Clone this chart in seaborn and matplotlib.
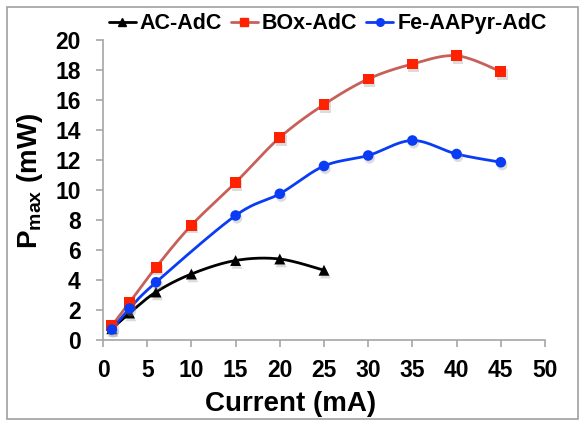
import numpy as np
import pandas as pd
import matplotlib
matplotlib.use("Agg")
import matplotlib.pyplot as plt
import matplotlib.patheffects as pe
from matplotlib.lines import Line2D
from matplotlib.patches import Rectangle
import seaborn as sns

# ---- data ----
ac_x = [1, 3, 6, 10, 15, 20, 25]
ac_y = [0.75, 1.8, 3.2, 4.4, 5.3, 5.4, 4.65]
box_x = [1, 3, 6, 10, 15, 20, 25, 30, 35, 40, 45]
box_y = [0.95, 2.5, 4.85, 7.65, 10.5, 13.5, 15.7, 17.4, 18.4, 18.95, 17.9]
fe_x = [1, 3, 6, 15, 20, 25, 30, 35, 40, 45]
fe_y = [0.7, 2.1, 3.85, 8.3, 9.75, 11.6, 12.3, 13.3, 12.4, 11.85]
labels = ["AC-AdC", "BOx-AdC", "Fe-AAPyr-AdC"]
x_ticks = [0, 5, 10, 15, 20, 25, 30, 35, 40, 45, 50]
y_ticks = [0, 2, 4, 6, 8, 10, 12, 14, 16, 18, 20]

sns.set_theme(style="white")
plt.rcParams["font.family"] = ["Liberation Sans", "DejaVu Sans"]
plt.rcParams["font.weight"] = "bold"
plt.rcParams["text.color"] = "black"
plt.rcParams["axes.labelcolor"] = "black"
plt.rcParams["mathtext.fontset"] = "custom"
plt.rcParams["mathtext.rm"] = "Liberation Sans:bold"
plt.rcParams["mathtext.bf"] = "Liberation Sans:bold"
plt.rcParams["mathtext.it"] = "Liberation Sans:bold"


def smooth(xs, ys, n=30):
    """Excel-style smoothed curve (Bezier with Catmull-Rom control points) for drawing."""
    P = np.column_stack([xs, ys]).astype(float)
    out = []
    for i in range(len(P) - 1):
        p0 = P[i - 1] if i > 0 else P[i]
        p1, p2 = P[i], P[i + 1]
        p3 = P[i + 2] if i + 2 < len(P) else P[i + 1]
        c1 = p1 + (p2 - p0) / 6.0
        c2 = p2 - (p3 - p1) / 6.0
        t = np.linspace(0, 1, n)[:, None]
        seg = ((1 - t) ** 3) * p1 + 3 * ((1 - t) ** 2) * t * c1 + 3 * (1 - t) * t ** 2 * c2 + t ** 3 * p2
        out.append(seg if i == 0 else seg[1:])
    s = np.vstack(out)
    return pd.DataFrame({"x": s[:, 0], "y": s[:, 1], "order": np.arange(len(s))})


fig = plt.figure(figsize=(5.79, 4.21), dpi=100)
ax = fig.add_axes([103 / 579, 1 - 340 / 421, (545 - 103) / 579, 300 / 421])

series = [
    (ac_x, ac_y, "#000000", "#000000", "^", 62),
    (box_x, box_y, "#C8605A", "#FF2200", "s", 62),
    (fe_x, fe_y, "#0A3CF5", "#0A3CF5", "o", 58),
]
shadow = [pe.SimplePatchShadow(offset=(1.0, -2.0), shadow_rgbFace="0.55", alpha=0.3), pe.Normal()]
handles = []
for (xs, ys, lc, mc, mk, ms), lab in zip(series, labels):
    sm = smooth(xs, ys)
    sns.lineplot(data=sm, x="x", y="y", sort=False, estimator=None, color=lc,
                 linewidth=2.0, ax=ax, zorder=2)
    pts = pd.DataFrame({"x": xs, "y": ys})
    sns.scatterplot(data=pts, x="x", y="y", marker=mk, s=ms, color=mc, edgecolor=mc,
                    linewidth=0, ax=ax, zorder=3, path_effects=shadow)
    handles.append(Line2D([0], [0], color=lc, lw=2, marker=mk, markersize=5.5,
                          markerfacecolor=mc, markeredgecolor=mc, label=lab))

ax.set_xlim(0, 50)
ax.set_ylim(0, 20)
ax.set_xticks(x_ticks)
ax.set_yticks(y_ticks)
ax.set_xticklabels([str(v) for v in x_ticks], fontsize=16.5, fontweight="bold", color="black")
ax.set_yticklabels([str(v) for v in y_ticks], fontsize=16.5, fontweight="bold", color="black")
ax.set_xlabel("Current (mA)", fontsize=20, fontweight="bold", color="black")
ax.set_ylabel(r"P$_{\mathregular{max}}$ (mW)", fontsize=20, fontweight="bold", color="black")
ax.xaxis.label.set_va("center")
ax.xaxis.set_label_coords((291 - 103) / 442, (340 - 404) / 300)
ax.yaxis.label.set_va("center")
ax.yaxis.label.set_rotation_mode("default")
ax.yaxis.set_label_coords((30 - 103) / 442, (340 - 181) / 300)

for s in ["top", "right"]:
    ax.spines[s].set_visible(False)
for s in ["left", "bottom"]:
    ax.spines[s].set_color("#A6A6A6")
    ax.spines[s].set_linewidth(1.2)
ax.tick_params(axis="both", direction="out", length=5, width=1.2, color="#A6A6A6",
               labelcolor="black", bottom=True, left=True)
ax.tick_params(axis="x", pad=9)
ax.tick_params(axis="y", pad=11)
if ax.get_legend() is not None:
    ax.get_legend().remove()

fig.legend(handles=handles, loc="center", bbox_to_anchor=(0.566, 0.943), ncol=3,
           frameon=False, handlelength=1.25, handletextpad=0.2,
           columnspacing=0.4, prop={"weight": "bold", "size": 15.5})

fig.patches.append(Rectangle((7 / 579, 1 - 419 / 421), (578 - 7) / 579, (419 - 7) / 421,
                             transform=fig.transFigure, fill=False, edgecolor="#A0A0A0",
                             linewidth=1.2))

fig.savefig("out.png", dpi=100)
